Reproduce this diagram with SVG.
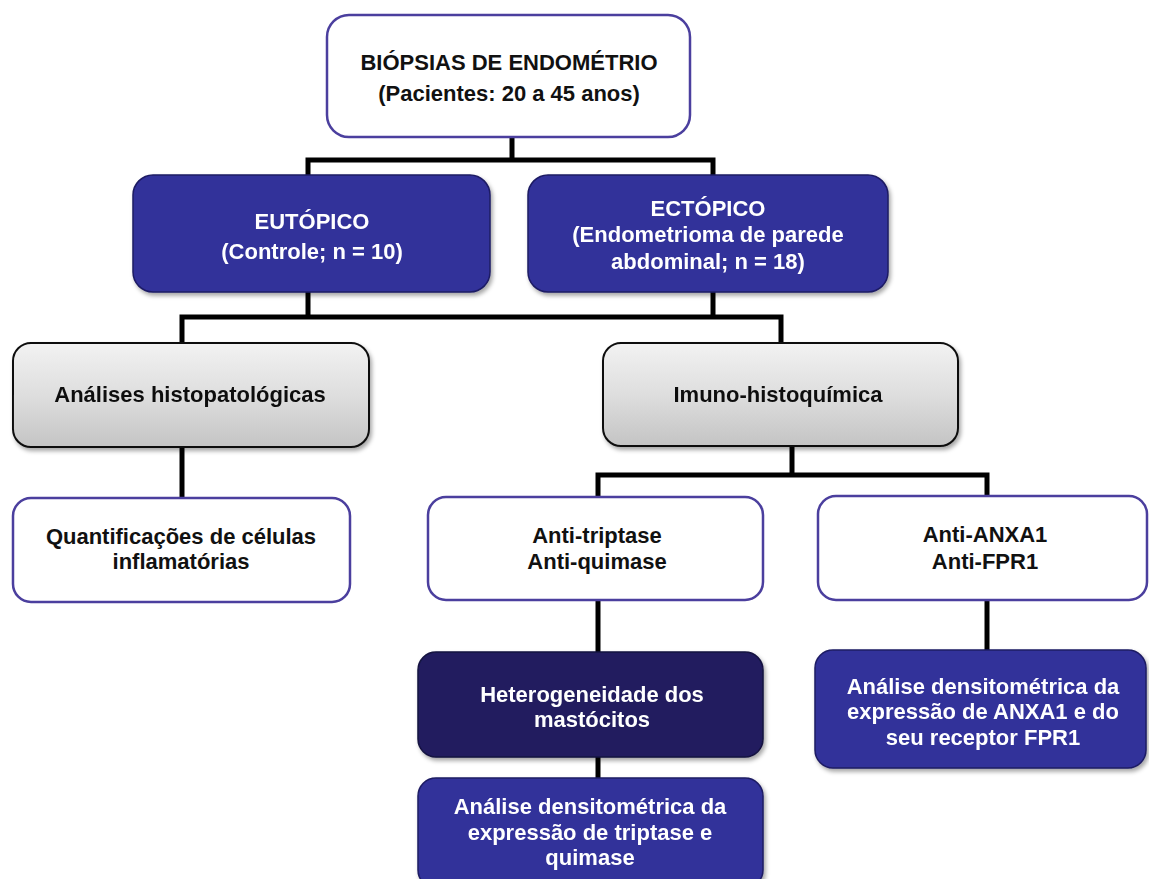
<svg xmlns="http://www.w3.org/2000/svg" width="1149" height="879" viewBox="0 0 1149 879">
<style>
text{font-family:"Liberation Sans",Arial,sans-serif;font-weight:bold;font-size:22px;text-anchor:middle}
.dk{fill:#111}
.wt{fill:#fff}
.white{fill:#fff;stroke:#4b3f9e;stroke-width:2.5}
.blue{fill:#31309a;stroke:#1d1b63;stroke-width:1.5}
.navy{fill:#201d5f;stroke:#14123f;stroke-width:1.5}
.gray{fill:url(#gg);stroke:#111;stroke-width:2}
.conn{fill:none;stroke:#000;stroke-width:5;stroke-linejoin:miter}
</style>
<defs>
<linearGradient id="gg" x1="0" y1="0" x2="0" y2="1">
<stop offset="0" stop-color="#f2f2f2"/>
<stop offset="0.5" stop-color="#dedede"/>
<stop offset="1" stop-color="#c4c4c4"/>
</linearGradient>
<filter id="sh" x="-10%" y="-10%" width="125%" height="130%">
<feDropShadow dx="2" dy="3" stdDeviation="2" flood-color="#000" flood-opacity="0.35"/>
</filter>
</defs>
<rect width="1149" height="879" fill="#fff"/>
<g id="connectors">
<path class="conn" d="M512 137V160M308 177V160H713V177"/>
<path class="conn" d="M308 292V317M713 292V317M182 345V317H781V345"/>
<path class="conn" d="M182 447V499"/>
<path class="conn" d="M792 446V475M598 499V475H987V498"/>
<path class="conn" d="M598 600V653"/>
<path class="conn" d="M598 757V779"/>
<path class="conn" d="M987 600V651"/>
</g>
<g id="n-biopsias">
<rect class="white" x="327" y="15" width="363" height="122" rx="22"/>
<text class="dk" x="509" y="70">BIÓPSIAS DE ENDOMÉTRIO</text>
<text class="dk" x="509" y="101">(Pacientes: 20 a 45 anos)</text>
</g>
<g id="n-eutopico" filter="url(#sh)">
<rect class="blue" x="133" y="175" width="357" height="117" rx="20"/>
<text class="wt" x="312" y="229">EUTÓPICO</text>
<text class="wt" x="312" y="259">(Controle; n = 10)</text>
</g>
<g id="n-ectopico" filter="url(#sh)">
<rect class="blue" x="528" y="175" width="360" height="117" rx="20"/>
<text class="wt" x="708" y="216">ECTÓPICO</text>
<text class="wt" x="708" y="242">(Endometrioma de parede</text>
<text class="wt" x="708" y="269">abdominal; n = 18)</text>
</g>
<g id="n-histo" filter="url(#sh)">
<rect class="gray" x="13" y="343" width="356" height="104" rx="18"/>
<text class="dk" x="190" y="402">Análises histopatológicas</text>
</g>
<g id="n-imuno" filter="url(#sh)">
<rect class="gray" x="603" y="343" width="355" height="103" rx="18"/>
<text class="dk" x="778" y="402">Imuno-histoquímica</text>
</g>
<g id="n-quant">
<rect class="white" x="13" y="498" width="337" height="104" rx="18"/>
<text class="dk" x="181" y="544">Quantificações de células</text>
<text class="dk" x="181" y="569">inflamatórias</text>
</g>
<g id="n-antitrip">
<rect class="white" x="428" y="497" width="335" height="103" rx="18"/>
<text class="dk" x="597" y="543">Anti-triptase</text>
<text class="dk" x="597" y="569">Anti-quimase</text>
</g>
<g id="n-antianxa">
<rect class="white" x="818" y="496" width="329" height="104" rx="18"/>
<text class="dk" x="985" y="542">Anti-ANXA1</text>
<text class="dk" x="985" y="569">Anti-FPR1</text>
</g>
<g id="n-hetero" filter="url(#sh)">
<rect class="navy" x="418" y="652" width="345" height="105" rx="18"/>
<text class="wt" x="592" y="702">Heterogeneidade dos</text>
<text class="wt" x="592" y="727">mastócitos</text>
</g>
<g id="n-dens1" filter="url(#sh)">
<rect class="blue" x="418" y="778" width="345" height="110" rx="18"/>
<text class="wt" x="590" y="814">Análise densitométrica da</text>
<text class="wt" x="590" y="840">expressão de triptase e</text>
<text class="wt" x="590" y="865">quimase</text>
</g>
<g id="n-dens2" filter="url(#sh)">
<rect class="blue" x="815" y="650" width="331" height="118" rx="18"/>
<text class="wt" x="983" y="694">Análise densitométrica da</text>
<text class="wt" x="983" y="719">expressão de ANXA1 e do</text>
<text class="wt" x="983" y="745">seu receptor FPR1</text>
</g>
</svg>
